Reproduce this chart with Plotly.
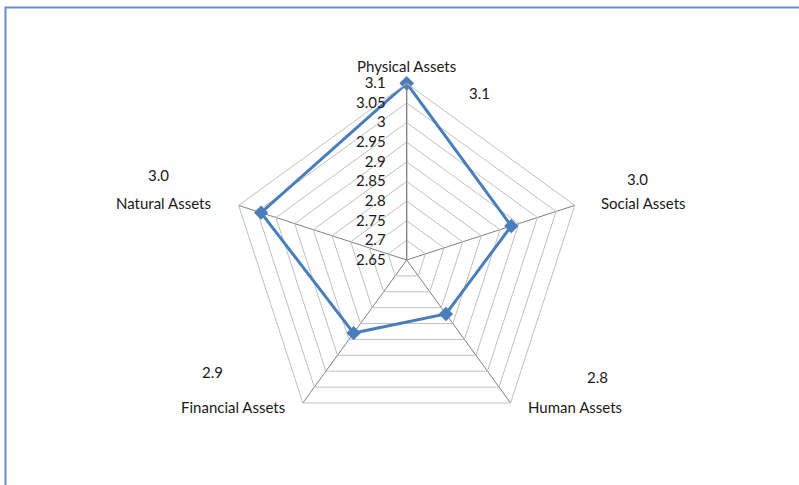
import plotly.graph_objects as go

categories = ["Physical Assets", "Social Assets", "Human Assets", "Financial Assets", "Natural Assets"]
values = [3.1, 2.93, 2.82, 2.88, 3.04]
label_texts = ["3.1", "3.0", "2.8", "2.9", "3.0"]
# pixel positions of the detached data labels
label_px = [(479, 93), (637, 179), (597, 377), (212, 372), (158, 175)]
# pixel anchor of the category labels (x, y, xanchor)
cat_px = [(406.7, 66, "center"), (599, 203, "left"), (526, 407, "left"),
          (287, 407, "right"), (213, 203, "right")]

W, H = 799, 485
cx, cy, R = 406.7, 260.0, 176.7

font_family = "Lato, 'Open Sans', sans-serif"

fig = go.Figure()
fig.add_trace(go.Scatterpolar(
    r=values + values[:1],
    theta=categories + categories[:1],
    mode="lines+markers",
    line=dict(color="#4a7ebb", width=3),
    marker=dict(symbol="diamond", size=11, color="#4a7ebb"),
    showlegend=False,
    hoverinfo="skip",
))

annotations = []
for t, (px, py) in zip(label_texts, label_px):
    annotations.append(dict(
        x=px / W, y=1 - py / H, xref="paper", yref="paper",
        text=t, showarrow=False, xanchor="center", yanchor="middle",
        font=dict(family=font_family, size=15, color="#1a1a1a"),
    ))
for t, (px, py, xa) in zip(categories, cat_px):
    annotations.append(dict(
        x=px / W, y=1 - py / H, xref="paper", yref="paper",
        text=t, showarrow=False, xanchor=xa, yanchor="middle",
        font=dict(family=font_family, size=15, color="#1a1a1a"),
    ))

fig.update_layout(
    width=W, height=H,
    margin=dict(l=0, r=0, t=0, b=0),
    paper_bgcolor="white",
    plot_bgcolor="white",
    font=dict(family=font_family, size=15, color="#1a1a1a"),
    polar=dict(
        domain=dict(x=[(cx - R) / W, (cx + R) / W], y=[1 - (cy + R) / H, 1 - (cy - R) / H]),
        gridshape="linear",
        bgcolor="white",
        radialaxis=dict(
            range=[2.65, 3.1], dtick=0.05, tick0=2.65,
            angle=90, side="counterclockwise", tickangle=90,
            showline=True, linecolor="#7f7f7f", linewidth=1,
            gridcolor="#c0c0c0", gridwidth=1,
            ticks="", ticksuffix="\u00a0\u00a0\u00a0\u00a0",
            tickfont=dict(size=15, color="#1a1a1a"),
        ),
        angularaxis=dict(
            direction="clockwise", rotation=90,
            showline=True, linecolor="#c0c0c0", linewidth=1,
            gridcolor="#7f7f7f", gridwidth=1,
            ticks="", showticklabels=False,
        ),
    ),
    annotations=annotations,
    shapes=[dict(
        type="rect", xref="paper", yref="paper",
        x0=5.5 / W, x1=1.05, y0=-0.05, y1=1 - 7.5 / H,
        line=dict(color="#6a8fc8", width=2), fillcolor="rgba(0,0,0,0)",
    )],
)

fig.write_html("out.html")
